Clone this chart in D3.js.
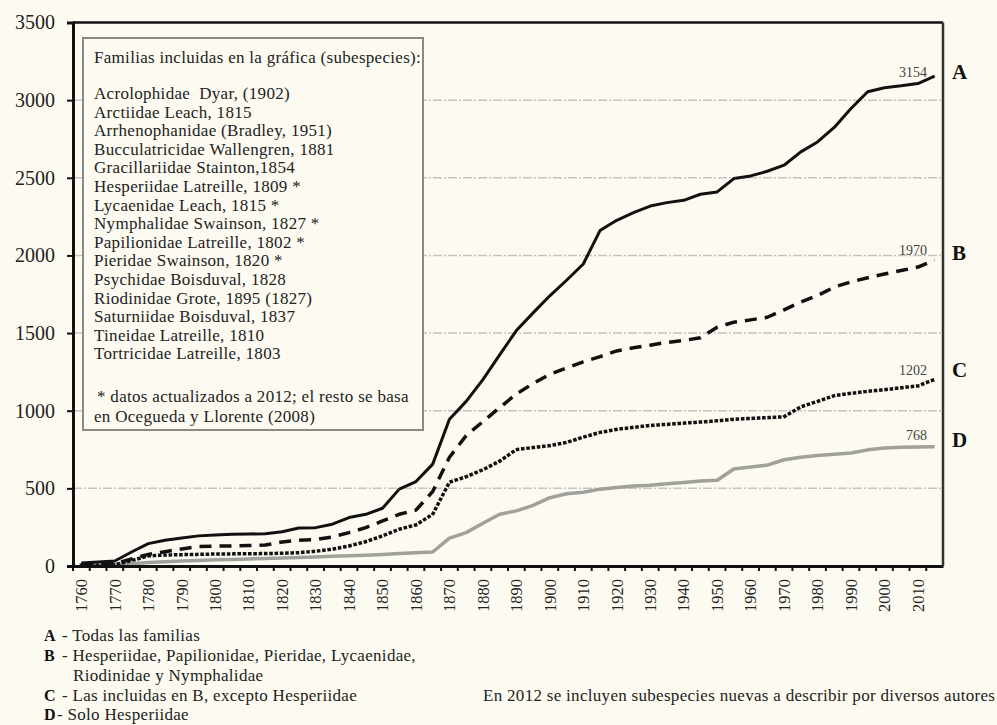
<!DOCTYPE html>
<html>
<head>
<meta charset="utf-8">
<script src="https://cdn.jsdelivr.net/npm/d3@7"></script>
<style>
  body { margin: 0; background: #fdfbf1; }
  svg { display: block; font-family: "Liberation Serif", "Times New Roman", serif; }
</style>
</head>
<body>
<div id="chart"></div>
<script>
// categories (5-year steps, last one is 2012)
var years = [1760,1765,1770,1775,1780,1785,1790,1795,1800,1805,1810,1815,1820,1825,1830,1835,1840,1845,1850,1855,
  1860,1865,1870,1875,1880,1885,1890,1895,1900,1905,1910,1915,1920,1925,1930,1935,1940,1945,1950,1955,
  1960,1965,1970,1975,1980,1985,1990,1995,2000,2005,2010,2012];

// A - Todas las familias
var serieA = [20,25,32,90,144,166,180,194,200,204,206,208,221,245,247,269,312,333,372,495,
  544,656,945,1060,1200,1360,1516,1630,1740,1840,1945,2160,2226,2275,2318,2340,2355,2394,2409,2495,
  2512,2542,2581,2667,2731,2824,2946,3054,3080,3092,3107,3154];
// B - Hesperiidae, Papilionidae, Pieridae, Lycaenidae, Riodinidae y Nymphalidae
var serieB = [12,12,15,45,75,92,110,125,128,129,132,135,155,166,170,187,215,247,290,333,
  360,480,700,840,930,1020,1108,1175,1235,1275,1315,1348,1385,1405,1422,1440,1452,1470,1537,1570,
  1585,1602,1650,1700,1742,1796,1830,1856,1880,1903,1925,1970];
// C - Las incluidas en B, excepto Hesperiidae
var serieC = [5,5,8,35,65,71,73,75,77,78,79,80,82,86,95,108,129,157,194,237,
  265,333,540,575,620,675,750,763,775,796,830,860,880,893,905,912,920,927,935,945,
  950,955,961,1025,1060,1097,1112,1125,1135,1148,1160,1202];
// D - Solo Hesperiidae
var serieD = [5,5,8,15,22,27,32,36,40,42,45,48,52,55,58,62,66,70,74,80,
  86,90,180,215,275,333,355,390,440,465,475,495,505,515,520,530,538,548,552,625,
  638,650,684,700,712,720,728,748,760,764,766,768];

var yTicks = [0,500,1000,1500,2000,2500,3000,3500];

var boxTitle = "Familias incluidas en la gráfica (subespecies):";
var boxFamilies = [
  "Acrolophidae  Dyar, (1902)",
  "Arctiidae Leach, 1815",
  "Arrhenophanidae (Bradley, 1951)",
  "Bucculatricidae Wallengren, 1881",
  "Gracillariidae Stainton,1854",
  "Hesperiidae Latreille, 1809 *",
  "Lycaenidae Leach, 1815 *",
  "Nymphalidae Swainson, 1827 *",
  "Papilionidae Latreille, 1802 *",
  "Pieridae Swainson, 1820 *",
  "Psychidae Boisduval, 1828",
  "Riodinidae Grote, 1895 (1827)",
  "Saturniidae Boisduval, 1837",
  "Tineidae Latreille, 1810",
  "Tortricidae Latreille, 1803"
];
var boxNote = ["* datos actualizados a 2012; el resto se basa", "en Ocegueda y Llorente (2008)"];

var seriesKeys = ["A", "B", "C", "D"];
var seriesDesc = [
  ["- Todas las familias"],
  ["- Hesperiidae, Papilionidae, Pieridae, Lycaenidae,", "Riodinidae y Nymphalidae"],
  ["- Las incluidas en B, excepto Hesperiidae"],
  ["- Solo Hesperiidae"]
];
var noteRight = "En 2012 se incluyen subespecies nuevas a describir por diversos autores";

var W = 997, H = 725;
var margin = {top: 22.5, right: 54, bottom: 159, left: 73};
var width = W - margin.left - margin.right,
    height = H - margin.top - margin.bottom;

var svg = d3.select("#chart").append("svg")
    .attr("width", W)
    .attr("height", H);

svg.append("rect").attr("width", W).attr("height", H).attr("fill", "#fdfbf1");

var g = svg.append("g")
    .attr("transform", "translate(" + margin.left + "," + margin.top + ")");

var x = d3.scaleBand()
    .domain(years)
    .range([0, width])
    .padding(0);

var y = d3.scaleLinear()
    .domain([0, 3500])
    .range([height, 0]);

var bw = x.bandwidth();

// gridlines
g.append("g")
    .selectAll("line")
    .data(yTicks.filter(function(d) { return d > 0 && d < 3500; }))
    .enter().append("line")
    .attr("x1", 0).attr("x2", width)
    .attr("y1", function(d) { return y(d); })
    .attr("y2", function(d) { return y(d); })
    .attr("stroke", "#c4c4c0")
    .attr("stroke-width", 1.5)
    .attr("stroke-dasharray", "9,2,2,2");

// lines
var line = d3.line()
    .x(function(d, i) { return x(years[i]) + bw / 2; })
    .y(function(d) { return y(d); });

var styles = [
  {data: serieD, color: "#a0a09c", w: 3.5, dash: null, cap: "butt"},
  {data: serieC, color: "#111", w: 3.5, dash: "0.1,5.2", cap: "square"},
  {data: serieB, color: "#111", w: 3.5, dash: "12,8", cap: "butt"},
  {data: serieA, color: "#111", w: 3, dash: null, cap: "butt"}
];

styles.forEach(function(s) {
  g.append("path")
      .datum(s.data)
      .attr("fill", "none")
      .attr("stroke", s.color)
      .attr("stroke-width", s.w)
      .attr("stroke-linejoin", "round")
      .attr("stroke-linecap", s.cap)
      .attr("stroke-dasharray", s.dash)
      .attr("d", line);
});

// frame: top and right
g.append("line").attr("x1", 0).attr("x2", width).attr("y1", 0).attr("y2", 0)
    .attr("stroke", "#111").attr("stroke-width", 2.5);
g.append("line").attr("x1", width).attr("x2", width).attr("y1", 0).attr("y2", height)
    .attr("stroke", "#333").attr("stroke-width", 2.5);

// y axis
var yAxis = g.append("g")
    .call(d3.axisLeft(y).tickValues(yTicks).tickSize(6).tickPadding(12).tickFormat(d3.format("d")));
yAxis.select(".domain").attr("stroke", "#111").attr("stroke-width", 3);
yAxis.selectAll(".tick line").attr("stroke", "#111").attr("stroke-width", 2);
yAxis.selectAll("text")
    .attr("font-family", "Liberation Serif")
    .attr("font-size", 20)
    .attr("fill", "#222");

// x axis (labels every 10 years)
var xAxis = g.append("g")
    .attr("transform", "translate(0," + height + ")")
    .call(d3.axisBottom(x).tickSize(0).tickFormat(function(d) { return d % 10 === 0 ? d : ""; }));
xAxis.select(".domain").attr("stroke", "#111").attr("stroke-width", 3);
xAxis.selectAll("text")
    .attr("font-family", "Liberation Serif")
    .attr("font-size", 16.5)
    .attr("fill", "#222")
    .attr("text-anchor", "end")
    .attr("transform", "rotate(-90)")
    .attr("x", -13)
    .attr("y", 0)
    .attr("dy", "0.35em");

// tick marks at category boundaries
g.append("g")
    .selectAll("line")
    .data(years)
    .enter().append("line")
    .attr("x1", function(d) { return x(d); })
    .attr("x2", function(d) { return x(d); })
    .attr("y1", height)
    .attr("y2", height + 5)
    .attr("stroke", "#111")
    .attr("stroke-width", 2);

// end values and series letters
var ends = [
  {key: "A", v: serieA[serieA.length - 1], ty: 77, ly: 79},
  {key: "B", v: serieB[serieB.length - 1], ty: 255, ly: 260},
  {key: "C", v: serieC[serieC.length - 1], ty: 375, ly: 377},
  {key: "D", v: serieD[serieD.length - 1], ty: 440, ly: 447}
];
ends.forEach(function(e) {
  svg.append("text")
      .attr("x", 927).attr("y", e.ty)
      .attr("text-anchor", "end")
      .attr("font-size", 14)
      .attr("fill", "#444")
      .text(e.v);
  svg.append("text")
      .attr("x", 952).attr("y", e.ly)
      .attr("font-size", 21)
      .attr("font-weight", "bold")
      .attr("fill", "#111")
      .text(e.key);
});

// text style for the notes (slightly wide serif, as in the source)
function noteText(sel) {
  return sel.attr("font-size", 17)
      .attr("letter-spacing", 0.3)
      .attr("fill", "#222");
}

// legend box with families
var box = svg.append("g");
box.append("rect")
    .attr("x", 83).attr("y", 38)
    .attr("width", 340).attr("height", 392)
    .attr("fill", "#fdfbf1")
    .attr("stroke", "#8a8a86")
    .attr("stroke-width", 2);

box.append("text")
    .attr("x", 94).attr("y", 62.5)
    .call(noteText)
    .text(boxTitle);

box.selectAll(".fam")
    .data(boxFamilies)
    .enter().append("text")
    .attr("class", "fam")
    .attr("x", 94)
    .attr("y", function(d, i) { return 99 + i * 18.6; })
    .call(noteText)
    .attr("xml:space", "preserve")
    .text(function(d) { return d; });

box.selectAll(".note")
    .data(boxNote)
    .enter().append("text")
    .attr("class", "note")
    .attr("x", function(d, i) { return i === 0 ? 97 : 94; })
    .attr("y", function(d, i) { return 402 + i * 19.5; })
    .call(noteText)
    .text(function(d) { return d; });

// bottom legend
var rowsY = [641, 661, 701, 720];
seriesKeys.forEach(function(k, i) {
  svg.append("text")
      .attr("x", 44).attr("y", rowsY[i])
      .attr("font-size", 16).attr("font-weight", "bold").attr("fill", "#111")
      .text(k);
  seriesDesc[i].forEach(function(t, j) {
    svg.append("text")
        .attr("x", j === 0 ? (k === "D" ? 57 : 62) : 73)
        .attr("y", rowsY[i] + j * 20)
        .call(noteText)
        .text(t);
  });
});

svg.append("text")
    .attr("x", 483).attr("y", 701)
    .call(noteText)
    .text(noteRight);
</script>
</body>
</html>
